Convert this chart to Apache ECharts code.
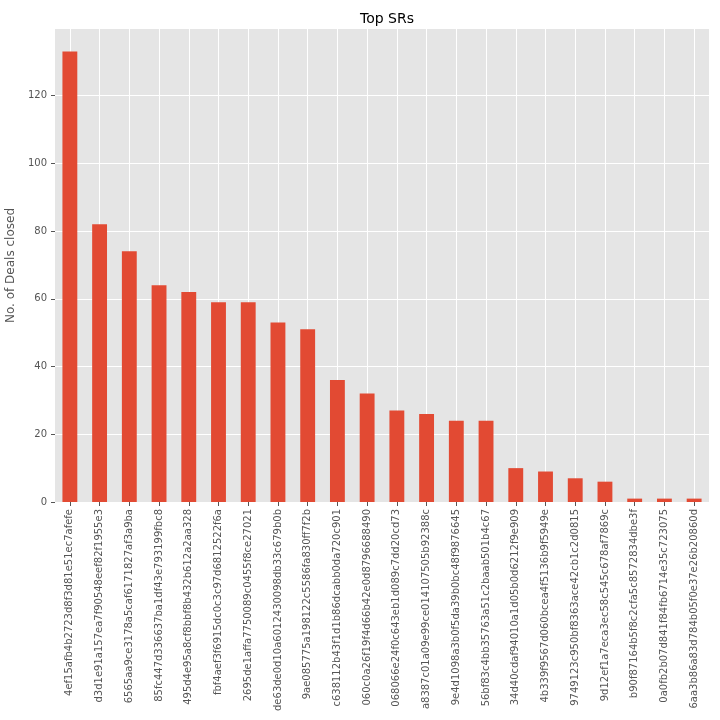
<!DOCTYPE html>
<html><head><meta charset="utf-8">
<script src="https://cdn.jsdelivr.net/npm/echarts@6/dist/echarts.min.js"></script>
<style>html,body{margin:0;padding:0;background:#fff}#c{width:720px;height:720px}</style>
</head><body><div id="c"></div>
<script>
const categories = [
  "4ef15afb4b2723d8f3d81e51ec7afefe",
  "d3d1e91a157ea7f90548eef82f1955e3",
  "6565aa9ce3178a5caf6171827af3a9ba",
  "85fc447d336637ba1df43e793199fbc8",
  "495d4e95a8cf8bbf8b432b612a2aa328",
  "fbf4aef3f6915dc0c3c97d6812522f6a",
  "2695de1affa7750089c0455f8ce27021",
  "de63de0d10a6012430098db33c679b0b",
  "9ae085775a198122c5586fa830ff7f2b",
  "c638112b43f1d1b86dcabb0da720c901",
  "060c0a26f19f4d66b42e0d8796688490",
  "068066e24f0c643eb1d089c7dd20cd73",
  "a8387c01a09e99ce014107505b92388c",
  "9e4d1098a3b0f5da39b0bc48f9876645",
  "56bf83c4bb35763a51c2baab501b4c67",
  "34d40cdaf94010a1d05b0d6212f9e909",
  "4b339f9567d060bcea4f5136b9f5949e",
  "9749123c950bf8363ace42cb1c2d0815",
  "9d12ef1a7eca3ec58c545c678af7869c",
  "b90f87164b5f8c2cfa5c8572834dbe3f",
  "0a0fb2b07d841f84fb6714e35c723075",
  "6aa3b86a83d784b05f0e37e26b20860d"
];
const dealsClosed = [133, 82, 74, 64, 62, 59, 59, 53, 51, 36, 32, 27, 26, 24, 24, 10, 9, 7, 6, 1, 1, 1];
const yTicks = [0, 20, 40, 60, 80, 100, 120];
const yMax = 139.65;

const chart = echarts.init(document.getElementById('c'));
const font = 'DejaVu Sans';
chart.setOption({
  animation: false,
  backgroundColor: '#fff',
  title: {
    text: 'Top SRs', left: 382, top: 7, textAlign: 'center',
    textStyle: {fontFamily: font, fontSize: 14, fontWeight: 'normal', color: '#000'}
  },
  grid: {left: 55, right: 11, top: 29, bottom: 218, show: true, backgroundColor: '#E5E5E5', borderWidth: 0,
         containLabel: false, outerBoundsMode: 'none'},
  xAxis: {
    type: 'category', data: categories,
    axisLine: {show: false},
    axisTick: {show: true, alignWithLabel: true, length: 4, lineStyle: {color: '#555'}},
    axisLabel: {rotate: 90, interval: 0, fontFamily: font, fontSize: 10, color: '#555', margin: 7},
    splitLine: {show: true, alignWithLabel: true, lineStyle: {color: '#fff', width: 1}}
  },
  yAxis: {
    type: 'value', min: 0, max: yMax, interval: 20,
    name: 'No. of Deals closed', nameLocation: 'middle', nameGap: 27,
    nameTextStyle: {fontFamily: font, fontSize: 12, color: '#555'},
    axisLine: {show: false},
    axisTick: {show: true, length: 4, lineStyle: {color: '#555'}, customValues: yTicks},
    axisLabel: {fontFamily: font, fontSize: 10, color: '#555', margin: 8, customValues: yTicks},
    splitLine: {show: true, lineStyle: {color: '#fff', width: 1}}
  },
  series: [{
    type: 'bar', data: dealsClosed, barWidth: '50%',
    itemStyle: {color: '#E24A33'}
  }]
});
</script></body></html>
